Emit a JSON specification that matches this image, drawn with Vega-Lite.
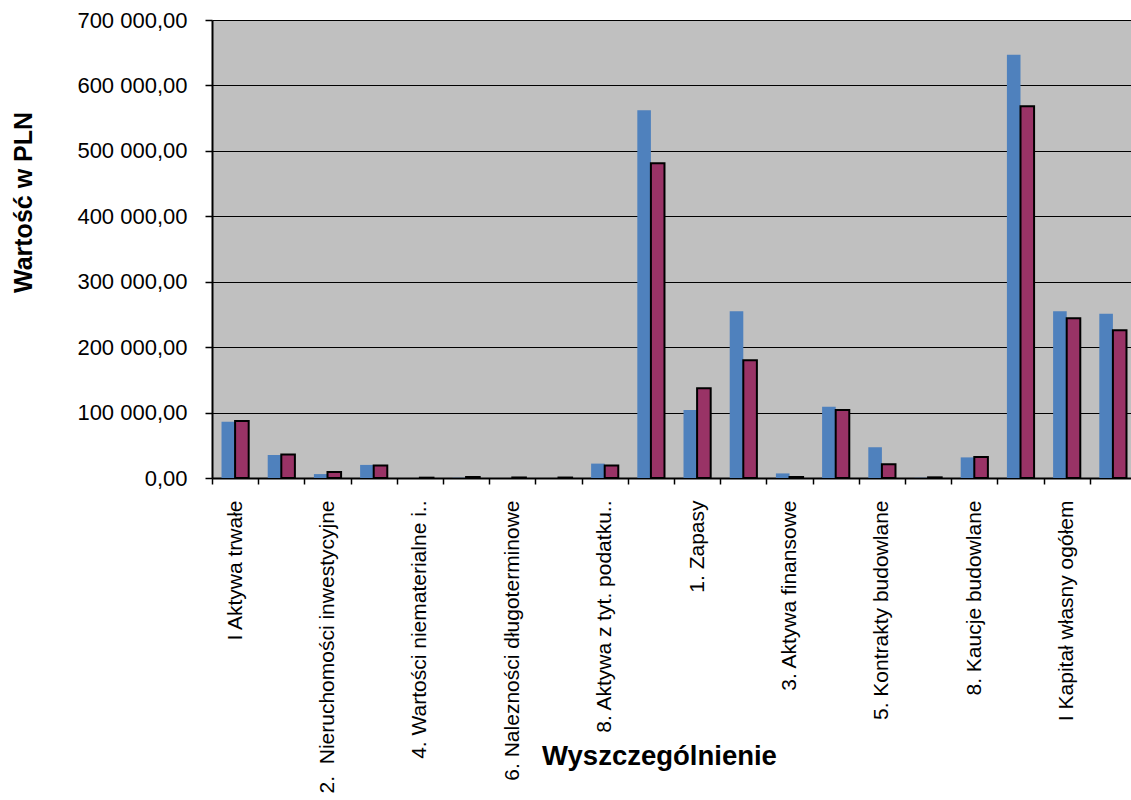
{
  "$schema": "https://vega.github.io/schema/vega-lite/v6.json",
  "autosize": {"type": "none"},
  "width": 919,
  "height": 458,
  "padding": {"left": 212, "top": 20, "right": 0, "bottom": 322},
  "background": "white",
  "data": {
    "values": [
      {"kategoria": "I Aktywa trwałe", "rok": "2010", "wartosc": 86000},
      {"kategoria": "I Aktywa trwałe", "rok": "2011", "wartosc": 87000},
      {"kategoria": "1. Rzeczowe aktywa trwałe", "rok": "2010", "wartosc": 35000},
      {"kategoria": "1. Rzeczowe aktywa trwałe", "rok": "2011", "wartosc": 36000},
      {"kategoria": "2. \u00a0Nieruchomości inwestycyjne", "rok": "2010", "wartosc": 6000},
      {"kategoria": "2. \u00a0Nieruchomości inwestycyjne", "rok": "2011", "wartosc": 9000},
      {"kategoria": "3. Wartość firmy", "rok": "2010", "wartosc": 20000},
      {"kategoria": "3. Wartość firmy", "rok": "2011", "wartosc": 19000},
      {"kategoria": "4. Wartości niematerialne i prawne", "rok": "2010", "wartosc": 0},
      {"kategoria": "4. Wartości niematerialne i prawne", "rok": "2011", "wartosc": 500},
      {"kategoria": "5. Inwestycje długoterminowe", "rok": "2010", "wartosc": 300},
      {"kategoria": "5. Inwestycje długoterminowe", "rok": "2011", "wartosc": 1500},
      {"kategoria": "6. Nalezności długoterminowe", "rok": "2010", "wartosc": 0},
      {"kategoria": "6. Nalezności długoterminowe", "rok": "2011", "wartosc": 800},
      {"kategoria": "7. Długoterminowe rozliczenia międzyokresowe", "rok": "2010", "wartosc": 0},
      {"kategoria": "7. Długoterminowe rozliczenia międzyokresowe", "rok": "2011", "wartosc": 700},
      {"kategoria": "8. Aktywa z tyt. podatku odroczonego", "rok": "2010", "wartosc": 22000},
      {"kategoria": "8. Aktywa z tyt. podatku odroczonego", "rok": "2011", "wartosc": 19000},
      {"kategoria": "II Aktywa obrotowe", "rok": "2010", "wartosc": 562000},
      {"kategoria": "II Aktywa obrotowe", "rok": "2011", "wartosc": 481000},
      {"kategoria": "1. Zapasy", "rok": "2010", "wartosc": 104000},
      {"kategoria": "1. Zapasy", "rok": "2011", "wartosc": 137000},
      {"kategoria": "2. Należności krótkoterminowe", "rok": "2010", "wartosc": 255000},
      {"kategoria": "2. Należności krótkoterminowe", "rok": "2011", "wartosc": 180000},
      {"kategoria": "3. Aktywa finansowe", "rok": "2010", "wartosc": 7000},
      {"kategoria": "3. Aktywa finansowe", "rok": "2011", "wartosc": 1500},
      {"kategoria": "4. Środki pieniężne", "rok": "2010", "wartosc": 109000},
      {"kategoria": "4. Środki pieniężne", "rok": "2011", "wartosc": 104000},
      {"kategoria": "5. Kontrakty budowlane", "rok": "2010", "wartosc": 47000},
      {"kategoria": "5. Kontrakty budowlane", "rok": "2011", "wartosc": 21000},
      {"kategoria": "6. Rozliczenia międzyokresowe", "rok": "2010", "wartosc": 300},
      {"kategoria": "6. Rozliczenia międzyokresowe", "rok": "2011", "wartosc": 1000},
      {"kategoria": "8. Kaucje budowlane", "rok": "2010", "wartosc": 31500},
      {"kategoria": "8. Kaucje budowlane", "rok": "2011", "wartosc": 32000},
      {"kategoria": "Aktywa razem", "rok": "2010", "wartosc": 647000},
      {"kategoria": "Aktywa razem", "rok": "2011", "wartosc": 568000},
      {"kategoria": "I Kapitał własny ogółem", "rok": "2010", "wartosc": 255000},
      {"kategoria": "I Kapitał własny ogółem", "rok": "2011", "wartosc": 244000},
      {"kategoria": "II Zobowiązania i rezerwy", "rok": "2010", "wartosc": 251000},
      {"kategoria": "II Zobowiązania i rezerwy", "rok": "2011", "wartosc": 226000}
    ]
  },
  "mark": {"type": "bar", "stroke": "#000000"},
  "encoding": {
    "x": {
      "field": "kategoria",
      "type": "nominal",
      "sort": null,
      "scale": {"paddingInner": 0, "paddingOuter": 0, "range": [0, 924]},
      "axis": {
        "title": "Wyszczególnienie",
        "titleFont": "Liberation Sans",
        "titleFontSize": 27.5,
        "titleFontWeight": "bold",
        "titleColor": "#000000",
        "titleX": 447,
        "titleY": 286,
        "titleAlign": "center",
        "titleBaseline": "alphabetic",
        "labelAngle": -90,
        "labelFont": "Liberation Sans",
        "labelFontSize": 21,
        "labelColor": "#000000",
        "labelPadding": 16,
        "labelLimit": 1000,
        "labelOverlap": false,
        "labelExpr": "indexof(domain('x'), datum.value) % 2 == 1 ? '' : (datum.value == '4. Wartości niematerialne i prawne' ? '4. Wartości niematerialne i..' : (datum.value == '8. Aktywa z tyt. podatku odroczonego' ? '8. Aktywa z tyt. podatku..' : datum.label))",
        "tickBand": "extent",
        "tickSize": 6,
        "tickColor": "#000000",
        "tickWidth": 1.5,
        "domainColor": "#000000",
        "domainWidth": 2,
        "grid": false
      }
    },
    "xOffset": {
      "field": "rok",
      "type": "nominal",
      "scale": {"paddingInner": 0, "paddingOuter": 0.7}
    },
    "y": {
      "field": "wartosc",
      "type": "quantitative",
      "scale": {"domain": [0, 700000], "nice": false},
      "axis": {
        "title": "Wartość w PLN",
        "titleFont": "Liberation Sans",
        "titleFontSize": 25,
        "titleFontWeight": "bold",
        "titleColor": "#000000",
        "titleAngle": 270,
        "titleAlign": "center",
        "titleBaseline": "middle",
        "titleX": -189,
        "titleY": 182,
        "values": [0, 100000, 200000, 300000, 400000, 500000, 600000, 700000],
        "labelExpr": "replace(replace(format(datum.value, ',.2f'), ',', ' '), '.', ',')",
        "labelFont": "Liberation Sans",
        "labelFontSize": 22,
        "labelColor": "#000000",
        "labelPadding": 18,
        "tickSize": 7,
        "tickColor": "#000000",
        "tickWidth": 1.5,
        "domainColor": "#000000",
        "domainWidth": 2,
        "grid": true,
        "gridColor": "#000000",
        "gridWidth": 1.2,
        "gridOpacity": 1
      }
    },
    "color": {
      "field": "rok",
      "type": "nominal",
      "scale": {"range": ["#4F81BD", "#993366"]},
      "legend": null
    },
    "strokeWidth": {
      "condition": {"test": "datum.rok == '2011'", "value": 2},
      "value": 0
    }
  },
  "config": {
    "view": {"fill": "#C0C0C0", "stroke": null}
  }
}
